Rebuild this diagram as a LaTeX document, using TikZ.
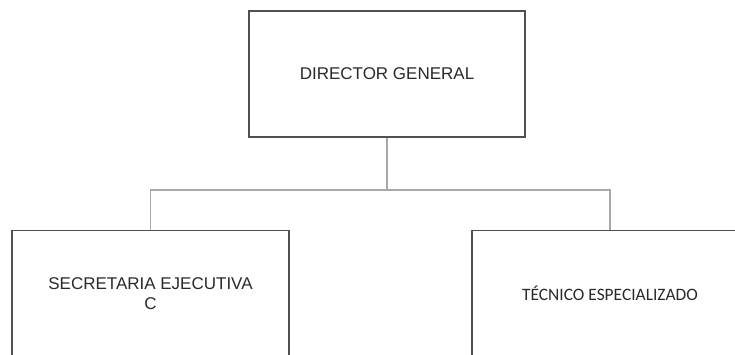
\documentclass[tikz,border=0pt]{standalone}
\usepackage{fontspec}
\setmainfont{Liberation Sans}
\newfontfamily\carlito{Carlito}
\definecolor{boxline}{HTML}{505050}
\definecolor{conline}{HTML}{A8A8A8}
\definecolor{txt}{HTML}{2A2A2A}
\pgfdeclarelayer{bg}
\pgfsetlayers{bg,main}
\begin{document}
\begin{tikzpicture}[x=1pt,y=1pt,
  orgbox/.style={draw=boxline,line width=1.3pt,fill=white,minimum width=276pt,minimum height=126pt,inner sep=0pt,align=center,text=txt,font=\fontsize{17}{20.5}\selectfont},
  conn/.style={draw=conline,line width=1.3pt}]
\useasboundingbox (0,0) rectangle (735,-355);
\clip (0,0) rectangle (735,-355);
\node[orgbox] (top) at (387,-74) {DIRECTOR GENERAL};
\node[orgbox,minimum width=277pt] (left) at (150.5,-293.5) {SECRETARIA EJECUTIVA\\C};
\node[orgbox,font=\carlito\fontsize{17.4}{20}\selectfont] (right) at (610,-293.5) {TÉCNICO ESPECIALIZADO};
\coordinate (j) at (387,-190);
\begin{pgfonlayer}{bg}
\draw[conn] (top.south) -- (j);
\draw[conn] (j) -| (left.north);
\draw[conn] (j) -| (right.north);
\end{pgfonlayer}
\end{tikzpicture}
\end{document}
